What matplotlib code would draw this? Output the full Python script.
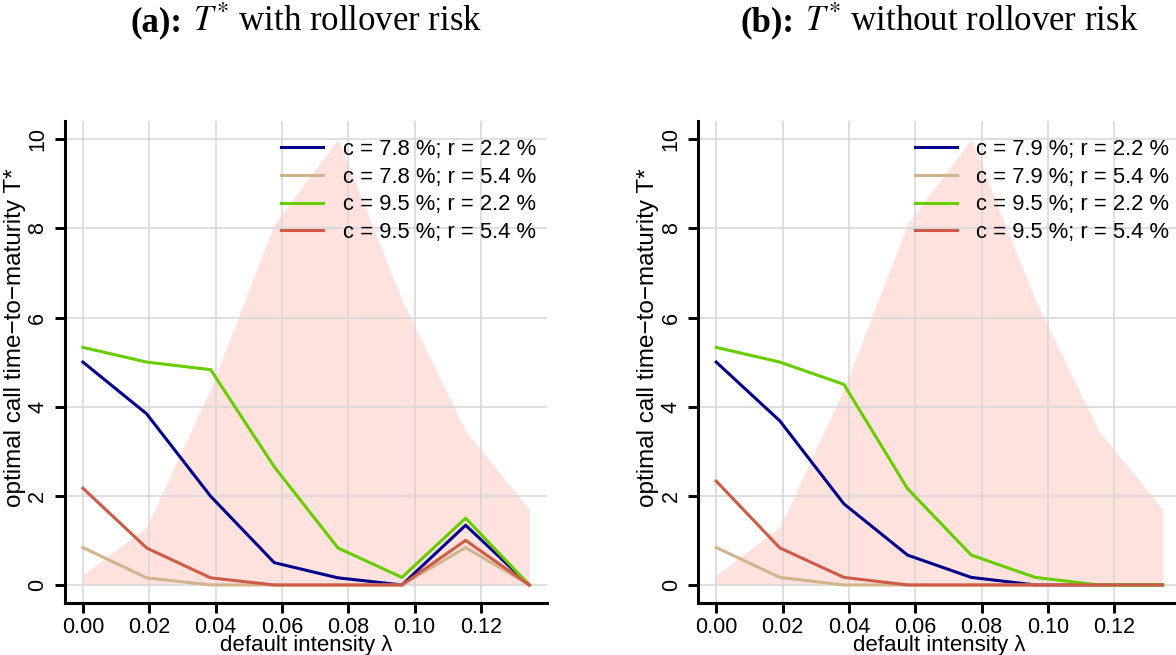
import matplotlib
matplotlib.use("Agg")
import matplotlib.pyplot as plt
from matplotlib.offsetbox import AnchoredOffsetbox, HPacker, TextArea

plt.rcParams["font.family"] = ["Liberation Sans", "DejaVu Sans"]
plt.rcParams["mathtext.fontset"] = "stix"

# default intensity grid
lam = [0.0, 0.0192, 0.0385, 0.0577, 0.0769, 0.0962, 0.1154, 0.1346]

# shaded density of lambda (same in both panels)
density = [0.22, 1.3, 4.4, 8.1, 10.0, 6.4, 3.45, 1.7]

# panel (a): with rollover risk
labels_a = ["c = 7.8 %; r = 2.2 %", "c = 7.8 %; r = 5.4 %",
            "c = 9.5 %; r = 2.2 %", "c = 9.5 %; r = 5.4 %"]
blue_a = [5.0, 3.84, 1.99, 0.5, 0.16, 0.0, 1.34, 0.0]
tan_a = [0.84, 0.16, 0.0, 0.0, 0.0, 0.0, 0.84, 0.0]
green_a = [5.33, 5.0, 4.83, 2.65, 0.83, 0.17, 1.5, 0.0]
red_a = [2.17, 0.83, 0.16, 0.0, 0.0, 0.0, 1.0, 0.0]

# panel (b): without rollover risk
labels_b = ["c = 7.9 %; r = 2.2 %", "c = 7.9 %; r = 5.4 %",
            "c = 9.5 %; r = 2.2 %", "c = 9.5 %; r = 5.4 %"]
blue_b = [5.0, 3.68, 1.82, 0.67, 0.17, 0.0, 0.0, 0.0]
tan_b = [0.84, 0.17, 0.0, 0.0, 0.0, 0.0, 0.0, 0.0]
green_b = [5.33, 5.0, 4.5, 2.16, 0.67, 0.17, 0.0, 0.0]
red_b = [2.33, 0.83, 0.17, 0.0, 0.0, 0.0, 0.0, 0.0]

colors = ["#00008B", "#D2B48C", "#66CD00", "#CD5B45"]
xticks = [0.0, 0.02, 0.04, 0.06, 0.08, 0.10, 0.12]
yticks = [0, 2, 4, 6, 8, 10]


def draw_panel(ax, series, labels, tag, title):
    ax.fill_between(lam, 0, density, color="#FFE1DE", linewidth=0, zorder=1)
    for ys, col, lab in zip(series, colors, labels):
        ax.plot(lam, ys, color=col, linewidth=2.2, label=lab, zorder=2)

    ax.set_xlim(-0.0054, 0.14)
    ax.set_ylim(-0.4, 10.4)
    ax.set_xticks(xticks)
    ax.set_xticklabels([f"{t:.2f}" for t in xticks])
    ax.set_yticks(yticks)
    ax.set_yticklabels([str(t) for t in yticks], rotation=90, va="center")
    ax.grid(True, color="#D6D6D6", linewidth=1.1)

    for side in ["top", "right"]:
        ax.spines[side].set_visible(False)
    for side in ["left", "bottom"]:
        ax.spines[side].set_linewidth(2.2)
    ax.tick_params(axis="both", direction="out", length=7, width=2.1,
                   labelsize=15.5, pad=3)
    ax.tick_params(axis="y", pad=5)

    ax.set_xlabel("default intensity λ", fontsize=16, labelpad=-2)
    ax.set_ylabel("optimal call time\u2212to\u2212maturity T*", fontsize=17.5)
    ax.yaxis.label.set_va("center")
    ax.yaxis.set_label_coords(-0.104, 0.55)

    ax.legend(loc="upper right", bbox_to_anchor=(0.977, 0.964), frameon=False,
              fontsize=15.8, handlelength=1.9, handletextpad=0.9,
              labelspacing=0.31, borderpad=0, borderaxespad=0)

    # title: bold tag + regular text
    serif = dict(fontsize=25, family="Liberation Serif")
    box = HPacker(children=[TextArea(tag, textprops=dict(fontweight="bold", **serif)),
                            TextArea(title, textprops=serif)],
                  align="baseline", pad=0, sep=8)
    ab = AnchoredOffsetbox(loc="lower center", child=box, pad=0, borderpad=0,
                           frameon=False, bbox_to_anchor=(0.5, 1.171),
                           bbox_transform=ax.transAxes)
    ax.add_artist(ab)


fig = plt.figure(figsize=(11.76, 6.55), dpi=100)
ax1 = fig.add_axes([0.0553, 0.0797, 0.410, 0.735])
ax2 = fig.add_axes([0.5938, 0.0797, 0.410, 0.735])

draw_panel(ax1, [blue_a, tan_a, green_a, red_a], labels_a,
           "(a):", r"$T^{*}$ with rollover risk")
draw_panel(ax2, [blue_b, tan_b, green_b, red_b], labels_b,
           "(b):", r"$T^{*}$ without rollover risk")

fig.savefig("out.png", dpi=100)
